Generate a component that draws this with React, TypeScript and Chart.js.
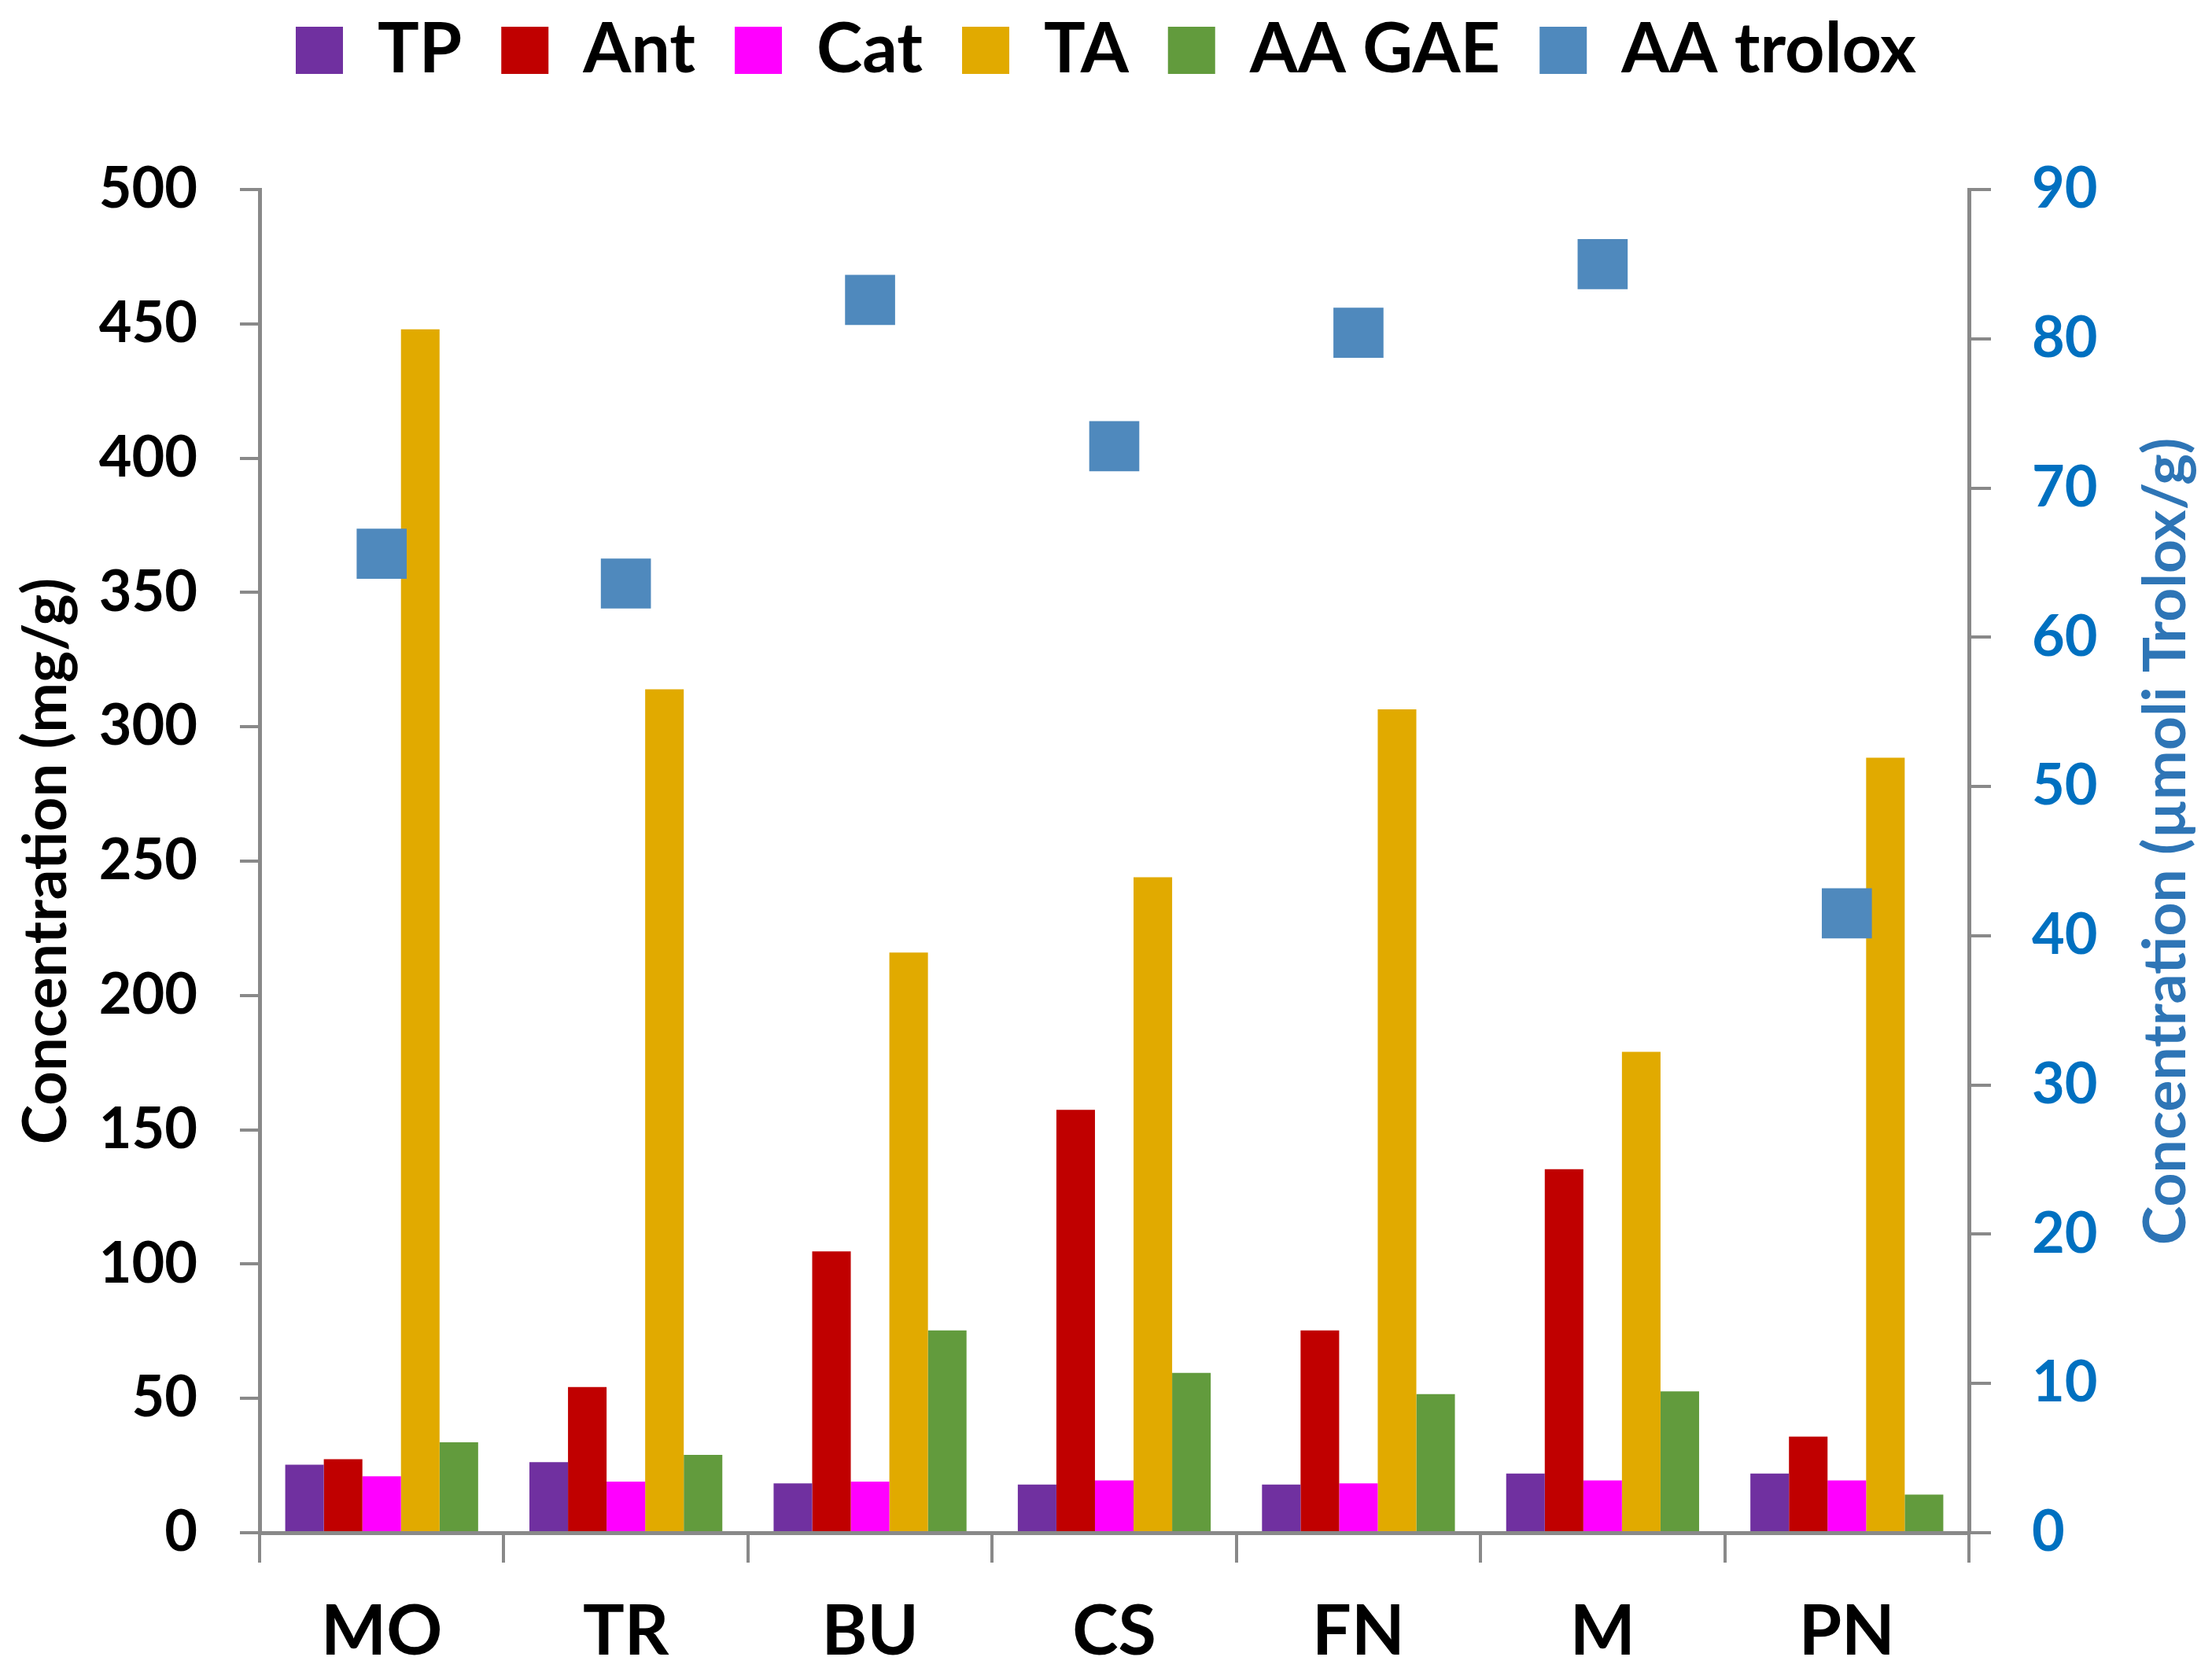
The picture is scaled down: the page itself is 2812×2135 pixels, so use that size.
import { useEffect, useRef } from "react";
import Chart from "chart.js/auto";

const categories = ["MO", "TR", "BU", "CS", "FN", "M", "PN"];
// mg/g, left axis
const tp = [25.3, 26.3, 18.4, 17.9, 17.9, 22, 22];
const ant = [27.4, 54.2, 104.7, 157.4, 75.3, 135.3, 35.8];
const cat = [21, 19, 19, 19.5, 18.4, 19.5, 19.5];
const ta = [448, 314, 216, 244, 306.5, 179, 288.5];
const aaGae = [33.7, 29, 75.3, 59.5, 51.6, 52.6, 14.2];
// µmoli Trolox/g, right axis
const aaTrolox = [65.6, 63.6, 82.6, 72.8, 80.4, 85.0, 41.5];

const leftTitle = "Concentration (mg/g)";
const rightTitle = "Concentration (µmoli Trolox/g)";

const GRAY = "#898989";
const FONT = "Lato, 'Open Sans', sans-serif";

export default function App() {
  const ref = useRef<HTMLCanvasElement | null>(null);
  const chartRef = useRef<Chart | null>(null);

  useEffect(() => {
    if (!ref.current) return;
    chartRef.current?.destroy();
    const ctx = ref.current.getContext("2d");
    if (!ctx) return;

    // push the plot area down below the legend
    const legendGap = {
      id: "legendGap",
      beforeInit(chart: any) {
        const fit = chart.legend.fit;
        chart.legend.fit = function () {
          fit.bind(chart.legend)();
          this.height += 123;
        };
      },
    };

    // right axis title reads bottom-to-top like the left one
    const rightAxisTitle = {
      id: "rightAxisTitle",
      afterDraw(chart: any) {
        const { ctx: c, chartArea, width } = chart;
        c.save();
        c.translate(width - 58, (chartArea.top + chartArea.bottom) / 2 - 25);
        c.rotate(-Math.PI / 2);
        c.font = `bold 75px ${FONT}`;
        c.fillStyle = "#2E75B6";
        c.textAlign = "center";
        c.textBaseline = "middle";
        c.fillText(rightTitle, 0, 0);
        c.restore();
      },
    };

    const bar = (label: string, data: number[], color: string) => ({
      type: "bar" as const,
      label,
      data,
      backgroundColor: color,
      borderWidth: 0,
      yAxisID: "y",
      order: 1,
    });

    chartRef.current = new Chart(ctx, {
      data: {
        labels: categories,
        datasets: [
          bar("TP", tp, "#7030A0"),
          bar("Ant", ant, "#C00000"),
          bar("Cat", cat, "#FF00FF"),
          bar("TA", ta, "#E1AA00"),
          bar("AA GAE", aaGae, "#629B3D"),
          {
            type: "line",
            label: "AA trolox",
            data: aaTrolox,
            showLine: false,
            yAxisID: "y1",
            order: 0,
            backgroundColor: "#4F89BD",
            borderColor: "#4F89BD",
            borderWidth: 0,
            pointStyle: "rect",
            pointRadius: 45,
            pointHoverRadius: 45,
            pointBorderWidth: 0,
          },
        ],
      } as any,
      options: {
        responsive: true,
        maintainAspectRatio: false,
        animation: false,
        layout: { padding: { top: -30, left: 0, right: 0, bottom: 0 } },
        datasets: { bar: { categoryPercentage: 0.79, barPercentage: 1 } },
        plugins: {
          legend: {
            position: "top",
            labels: {
              boxWidth: 60,
              boxHeight: 60,
              padding: 50,
              color: "#000",
              font: { family: FONT, size: 88, weight: "bold", lineHeight: 1 },
              sort: (a: any, b: any) => a.datasetIndex - b.datasetIndex,
            },
          },
          tooltip: { enabled: false },
        },
        scales: {
          x: {
            z: 1,
            afterFit: (s: any) => { s.height = 186; },
            grid: { display: true, drawOnChartArea: false, drawTicks: true, tickLength: 38, color: GRAY, lineWidth: 4 },
            border: { color: GRAY, width: 5 },
            ticks: { color: "#000", padding: 36, font: { family: FONT, size: 88, weight: "bold" } },
          },
          y: {
            position: "left",
            min: 0,
            max: 500,
            afterFit: (s: any) => { s.width = 330; },
            ticks: { stepSize: 50, color: "#000", padding: 54, font: { family: FONT, size: 72, weight: "bold" } },
            grid: { drawOnChartArea: false, drawTicks: true, tickLength: 25, color: GRAY, lineWidth: 4 },
            border: { color: GRAY, width: 5 },
            title: {
              display: true,
              text: leftTitle,
              color: "#000",
              padding: { top: 14, bottom: 0 },
              font: { family: FONT, size: 76, weight: "bold" },
            },
          },
          y1: {
            position: "right",
            min: 0,
            max: 90,
            afterFit: (s: any) => { s.width = 309; },
            ticks: { stepSize: 10, color: "#0070C0", padding: 52, font: { family: FONT, size: 72, weight: "bold" } },
            grid: { drawOnChartArea: false, drawTicks: true, tickLength: 28, color: GRAY, lineWidth: 4 },
            border: { color: GRAY, width: 5 },
            title: { display: false },
          },
        },
      } as any,
      plugins: [legendGap, rightAxisTitle],
    });

    return () => chartRef.current?.destroy();
  }, []);

  return (
    <div style={{ position: "fixed", left: 0, top: 0, width: 2812, height: 2135, background: "#fff" }}>
      <canvas ref={ref} />
    </div>
  );
}
